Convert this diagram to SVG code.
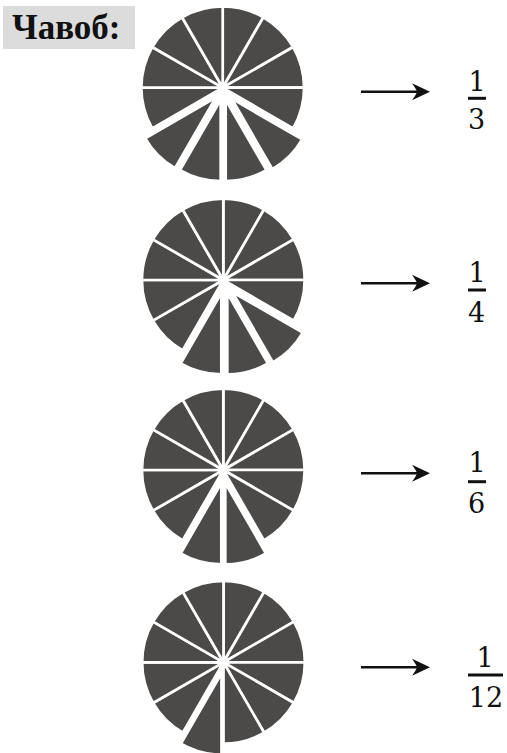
<svg xmlns="http://www.w3.org/2000/svg" xmlns:xlink="http://www.w3.org/1999/xlink" width="507" height="753" viewBox="0 0 507 753">
  <style>
    .sec { fill: #4b4a48; stroke: #ffffff; stroke-width: 2.7; stroke-linejoin: round; }
    .hub { fill: #ffffff; }
    .num { font-family: "DejaVu Serif", "Liberation Serif", serif; font-size: 27px; fill: #111111; text-anchor: middle; }
    .bar { stroke: #111111; stroke-width: 3; }
    .arr { stroke: #111111; stroke-width: 2.5; fill: none; }
    .head { fill: #111111; }
    .title { font-family: "Liberation Serif", "Times New Roman", serif; font-size: 35px; font-weight: bold; fill: #111111; }
  </style>
  <defs>
    <path id="s" d="M0,0 L0,-81.35 A81.35,81.35 0 0 1 40.675,-70.45 Z"/>
    <g id="arrow">
      <line class="arr" x1="0" y1="0" x2="58" y2="0"/>
      <path class="head" d="M69,0 L51,-8.5 Q55,-3 56,0 Q55,3 51,8.5 Z"/>
    </g>
  </defs>
  <rect width="507" height="753" fill="#ffffff"/>

  <g id="answer-label">
    <rect x="3" y="6" width="132" height="43" fill="#dcdcdc"/>
    <text class="title" x="12" y="39">Чавоб:</text>
  </g>

  <g id="pie-1-3" transform="translate(222.7,87.7)">
    <use xlink:href="#s" class="sec" transform="rotate(0)"/>
    <use xlink:href="#s" class="sec" transform="rotate(30)"/>
    <use xlink:href="#s" class="sec" transform="rotate(60)"/>
    <use xlink:href="#s" class="sec" transform="rotate(90)"/>
    <use xlink:href="#s" class="sec" transform="translate(9,11) rotate(120)"/>
    <use xlink:href="#s" class="sec" transform="translate(3,12) rotate(150)"/>
    <use xlink:href="#s" class="sec" transform="translate(-2,12) rotate(180)"/>
    <use xlink:href="#s" class="sec" transform="translate(-7,10) rotate(210)"/>
    <use xlink:href="#s" class="sec" transform="rotate(240)"/>
    <use xlink:href="#s" class="sec" transform="rotate(270)"/>
    <use xlink:href="#s" class="sec" transform="rotate(300)"/>
    <use xlink:href="#s" class="sec" transform="rotate(330)"/>
    <circle class="hub" r="5"/>
  </g>

  <g id="pie-1-4" transform="translate(223.3,280)">
    <use xlink:href="#s" class="sec" transform="rotate(0)"/>
    <use xlink:href="#s" class="sec" transform="rotate(30)"/>
    <use xlink:href="#s" class="sec" transform="rotate(60)"/>
    <use xlink:href="#s" class="sec" transform="rotate(90)"/>
    <use xlink:href="#s" class="sec" transform="translate(9,12) rotate(120)"/>
    <use xlink:href="#s" class="sec" transform="translate(4,13) rotate(150)"/>
    <use xlink:href="#s" class="sec" transform="translate(-2,13) rotate(180)"/>
    <use xlink:href="#s" class="sec" transform="rotate(210)"/>
    <use xlink:href="#s" class="sec" transform="rotate(240)"/>
    <use xlink:href="#s" class="sec" transform="rotate(270)"/>
    <use xlink:href="#s" class="sec" transform="rotate(300)"/>
    <use xlink:href="#s" class="sec" transform="rotate(330)"/>
    <circle class="hub" r="5"/>
  </g>

  <g id="pie-1-6" transform="translate(223.3,470)">
    <use xlink:href="#s" class="sec" transform="rotate(0)"/>
    <use xlink:href="#s" class="sec" transform="rotate(30)"/>
    <use xlink:href="#s" class="sec" transform="rotate(60)"/>
    <use xlink:href="#s" class="sec" transform="rotate(90)"/>
    <use xlink:href="#s" class="sec" transform="rotate(120)"/>
    <use xlink:href="#s" class="sec" transform="translate(2,13) rotate(150)"/>
    <use xlink:href="#s" class="sec" transform="translate(-2,13) rotate(180)"/>
    <use xlink:href="#s" class="sec" transform="rotate(210)"/>
    <use xlink:href="#s" class="sec" transform="rotate(240)"/>
    <use xlink:href="#s" class="sec" transform="rotate(270)"/>
    <use xlink:href="#s" class="sec" transform="rotate(300)"/>
    <use xlink:href="#s" class="sec" transform="rotate(330)"/>
    <circle class="hub" r="5"/>
  </g>

  <g id="pie-1-12" transform="translate(223.5,662.3)">
    <use xlink:href="#s" class="sec" transform="rotate(0)"/>
    <use xlink:href="#s" class="sec" transform="rotate(30)"/>
    <use xlink:href="#s" class="sec" transform="rotate(60)"/>
    <use xlink:href="#s" class="sec" transform="rotate(90)"/>
    <use xlink:href="#s" class="sec" transform="rotate(120)"/>
    <use xlink:href="#s" class="sec" transform="rotate(150)"/>
    <use xlink:href="#s" class="sec" transform="translate(-2,11) rotate(180)"/>
    <use xlink:href="#s" class="sec" transform="rotate(210)"/>
    <use xlink:href="#s" class="sec" transform="rotate(240)"/>
    <use xlink:href="#s" class="sec" transform="rotate(270)"/>
    <use xlink:href="#s" class="sec" transform="rotate(300)"/>
    <use xlink:href="#s" class="sec" transform="rotate(330)"/>
    <circle class="hub" r="5"/>
  </g>

  <g id="connectors">
    <use xlink:href="#arrow" transform="translate(361,91.7)"/>
    <use xlink:href="#arrow" transform="translate(361,283.3)"/>
    <use xlink:href="#arrow" transform="translate(361,473.3)"/>
    <use xlink:href="#arrow" transform="translate(361,667.3)"/>
  </g>

  <g id="frac-1-3">
    <text class="num" x="477" y="91">1</text>
    <line class="bar" x1="468" y1="98.3" x2="486" y2="98.3"/>
    <text class="num" x="476.5" y="128.5">3</text>
  </g>
  <g id="frac-1-4">
    <text class="num" x="477" y="282">1</text>
    <line class="bar" x1="468" y1="290" x2="486" y2="290"/>
    <text class="num" x="476.5" y="321.5">4</text>
  </g>
  <g id="frac-1-6">
    <text class="num" x="477" y="472">1</text>
    <line class="bar" x1="468" y1="481.7" x2="486" y2="481.7"/>
    <text class="num" x="476.5" y="512.5">6</text>
  </g>
  <g id="frac-1-12">
    <text class="num" x="485" y="667">1</text>
    <line class="bar" x1="468" y1="675" x2="503" y2="675"/>
    <text class="num" x="486" y="706.5">12</text>
  </g>
</svg>
